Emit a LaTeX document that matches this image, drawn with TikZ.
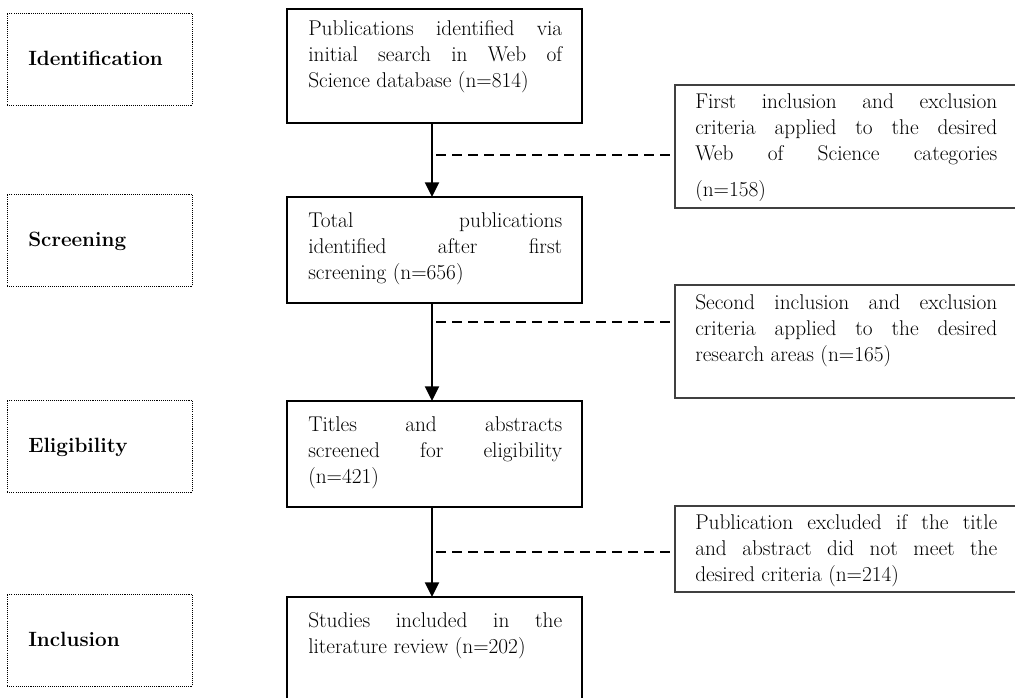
\documentclass[tikz,border=0pt]{standalone}
\usetikzlibrary{arrows.meta}
\newcommand{\pxu}{0.75pt}
\tolerance=10000
\hyphenpenalty=10000
\tikzset{
  stagebox/.style={draw=black, line width=0.7pt, dash pattern=on 0.8pt off 0.8pt,
    minimum width=185*\pxu, minimum height=92*\pxu, anchor=north west,
    inner sep=0pt, outer sep=0pt},
  stagetext/.style={anchor=base west, inner sep=0pt,
    font=\fontsize{15.5}{19.5}\selectfont\bfseries},
  flowbox/.style={draw=black, line width=0.9pt, minimum width=295*\pxu,
    anchor=north west, inner sep=0pt, outer sep=0pt},
  flowtext/.style={anchor=base west, inner sep=0pt, text width=254*\pxu,
    align=justify, font=\fontsize{16}{19.5}\selectfont},
  critbox/.style={draw=black!75, line width=1.2pt, minimum width=360*\pxu,
    anchor=north west, inner sep=0pt, outer sep=0pt},
  crittext/.style={flowtext, text width=302*\pxu},
  flowarrow/.style={line width=1.5pt, -{Triangle[width=10.5pt, length=11pt]}},
  critline/.style={line width=1.1pt, dash pattern=on 7.5pt off 4.5pt},
}
\begin{document}
\begin{tikzpicture}[x=\pxu, y=-\pxu]
  \useasboundingbox (0,0) rectangle (1015,698);
  \clip (0,0) rectangle (1015,698);

  % stages on the left
  \node[stagebox] (idbox) at (7,13) {};
  \node[stagetext] (idtext) at (28,66) {Identification};
  \node[stagebox] (scbox) at (7,194) {};
  \node[stagetext] (sctext) at (28,247) {Screening};
  \node[stagebox] (elbox) at (7,400) {};
  \node[stagetext] (eltext) at (28,453) {Eligibility};
  \node[stagebox] (inbox) at (7,594) {};
  \node[stagetext] (intext) at (28,647) {Inclusion};

  % main flow
  \node[flowbox, minimum height=114*\pxu] (pub) at (287,9) {};
  \node[flowtext] (pubtext) at (308,36) {Publications identified via\linebreak
    initial search in Web of\linebreak Science database (n=814)};
  \node[flowbox, minimum height=106*\pxu] (tot) at (287,197) {};
  \node[flowtext] (tottext) at (308,228) {Total publications\linebreak
    identified after first\linebreak screening (n=656)};
  \node[flowbox, minimum height=106*\pxu] (tit) at (287,401) {};
  \node[flowtext] (tittext) at (308,432) {Titles and abstracts\linebreak
    screened for eligibility\linebreak (n=421)};
  \node[flowbox, minimum height=130*\pxu] (stu) at (287,597) {};
  \node[flowtext] (stutext) at (308,628) {Studies included in the\linebreak
    literature review (n=202)};

  % exclusion boxes on the right
  \node[critbox, minimum height=123*\pxu] (crit1) at (675,85) {};
  \begin{scope}
    \clip (675,85) rectangle (1015,201);
    \node[crittext] (crit1text) at (695,109)
      {First inclusion and exclusion\linebreak
      criteria applied to the desired\linebreak
      Web of Science categories\vadjust{\vskip 7pt}\linebreak (n=158)};
  \end{scope}
  \node[critbox, minimum height=113*\pxu] (crit2) at (675,285) {};
  \node[crittext] (crit2text) at (695,310) {Second inclusion and exclusion\linebreak
    criteria applied to the desired\linebreak research areas (n=165)};
  \node[critbox, minimum height=86*\pxu] (crit3) at (675,506) {};
  \node[crittext] (crit3text) at (695,530) {Publication excluded if the title\linebreak
    and abstract did not meet the\linebreak desired criteria (n=214)};

  % arrows
  \coordinate (axis) at (432,0);
  \draw[flowarrow] (pub.south -| axis) -- (tot.north -| axis);
  \draw[flowarrow] (tot.south -| axis) -- (tit.north -| axis);
  \draw[flowarrow] (tit.south -| axis) -- (stu.north -| axis);

  \coordinate (d1) at (436,155);
  \coordinate (d2) at (436,322);
  \coordinate (d3) at (436,552);
  \draw[critline] (d1) -- (d1 -| crit1.west);
  \draw[critline] (d2) -- (d2 -| crit2.west);
  \draw[critline] (d3) -- (d3 -| crit3.west);
\end{tikzpicture}
\end{document}
